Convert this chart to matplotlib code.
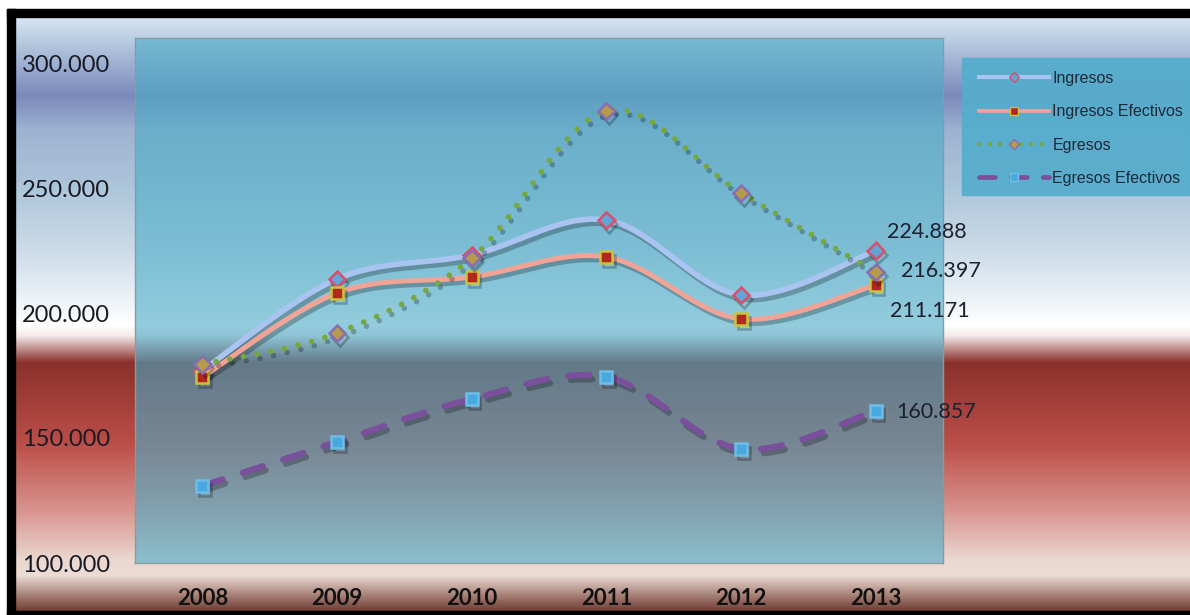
import numpy as np
import matplotlib
matplotlib.use("Agg")
import matplotlib.pyplot as plt
from matplotlib.patches import Rectangle
from matplotlib.lines import Line2D
from matplotlib.ticker import FuncFormatter
import matplotlib.patheffects as pe

years = ["2008", "2009", "2010", "2011", "2012", "2013"]
ingresos = [177000, 213600, 223200, 237200, 207200, 224888]
ingresos_efectivos = [174400, 208000, 214400, 222400, 197600, 211171]
egresos = [179500, 192000, 222000, 280800, 248000, 216397]
egresos_efectivos = [130800, 148400, 165600, 174400, 145600, 160857]


def smooth(vals, n=40):
    # excel-like smoothed line (bezier through the points)
    p = np.array(vals, dtype=float)
    x = np.arange(len(p), dtype=float)
    pp = np.concatenate([[p[0]], p, [p[-1]]])
    xx = np.concatenate([[x[0]], x, [x[-1]]])
    xs, ys = [], []
    t = np.linspace(0, 1, n, endpoint=False)
    for i in range(len(p) - 1):
        for arr, out in ((xx, xs), (pp, ys)):
            p0, p3 = arr[i + 1], arr[i + 2]
            c1 = p0 + (arr[i + 2] - arr[i]) / 6
            c2 = p3 - (arr[i + 3] - arr[i + 1]) / 6
            out.extend((1 - t) ** 3 * p0 + 3 * (1 - t) ** 2 * t * c1 + 3 * (1 - t) * t ** 2 * c2 + t ** 3 * p3)
    xs.append(x[-1])
    ys.append(p[-1])
    return np.array(xs), np.array(ys), list(range(0, n * (len(p) - 1) + 1, n))


fig = plt.figure(figsize=(11.9, 6.15), dpi=100)
W, H = 1190, 615

# background gradient
stops = [(0, (0.85, 0.90, 0.95)), (17, (0.85, 0.90, 0.95)), (40, (0.72, 0.80, 0.88)),
         (95, (0.48, 0.54, 0.74)), (130, (0.62, 0.70, 0.82)), (190, (0.68, 0.78, 0.86)),
         (250, (0.80, 0.86, 0.91)), (325, (1, 1, 1)), (335, (0.96, 0.92, 0.92)),
         (362, (0.54, 0.19, 0.17)), (445, (0.74, 0.31, 0.29)), (510, (0.85, 0.58, 0.56)),
         (560, (0.92, 0.85, 0.82)), (575, (0.92, 0.86, 0.83)), (595, (0.65, 0.50, 0.46)),
         (615, (0.36, 0.16, 0.12))]
yy = np.arange(H)
grad = np.zeros((H, 1, 3))
for c in range(3):
    grad[:, 0, c] = np.interp(yy, [s[0] for s in stops], [s[1][c] for s in stops])

bg = fig.add_axes([0, 0, 1, 1], zorder=-5)
bg.imshow(grad, aspect="auto", extent=[0, W, H, 0])
bg.set_xlim(0, W)
bg.set_ylim(H, 0)
bg.axis("off")
bg.add_patch(Rectangle((0, 0), W, 9, color="white"))
bg.add_patch(Rectangle((0, 0), 7, H, color="white"))
bg.add_patch(Rectangle((7, 9), W, 8, color="black"))
bg.add_patch(Rectangle((7, 9), 8, H, color="black"))
bg.add_patch(Rectangle((7, 611), W, 4, color="black"))
# legend box
bg.add_patch(Rectangle((962, 58), 228, 137, color=(0.33, 0.68, 0.80), alpha=0.92))

ax = fig.add_axes([135 / W, 1 - 563 / H, 808 / W, 525 / H])
ax.set_facecolor((0.29, 0.67, 0.78, 0.6))
for s in ax.spines.values():
    s.set_color("#8a9aa0")
    s.set_linewidth(1)

shadow = [pe.SimpleLineShadow(offset=(2, -3), alpha=0.25), pe.Normal()]

series = [
    (ingresos, "Ingresos", dict(color="#a9c4f0", lw=4, ls="-"),
     dict(marker="D", mfc="#62a4d8", mec="#d9506a")),
    (ingresos_efectivos, "Ingresos Efectivos", dict(color="#f2a396", lw=3.5, ls="-"),
     dict(marker="s", mfc="#b0281e", mec="#c8c43c")),
    (egresos, "Egresos", dict(color="#76a83c", lw=4, ls=(0, (0.01, 2.5)), dash_capstyle="round"),
     dict(marker="D", mfc="#b49c4c", mec="#8a6cb4")),
    (egresos_efectivos, "Egresos Efectivos", dict(color="#7a4f9c", lw=4.5, ls=(0, (3.4, 3.4)),
                                                  dash_capstyle="round"),
     dict(marker="s", mfc="#48a8e0", mec="#70bce8")),
]
handles = []
for vals, name, lst, mst in series:
    xs, ys, idx = smooth(vals)
    ax.plot(xs, ys, markevery=idx, ms=8.5, mew=1.8, path_effects=shadow, **lst, **mst)
    hl = dict(lst)
    hl["lw"] = lst["lw"] * 0.75
    handles.append(Line2D([], [], ms=5.5, mew=1, label=name, **hl, **mst))

ax.set_xlim(-0.5, 5.5)
ax.set_ylim(100000, 310000)
ax.set_xticks(range(len(years)))
ax.set_xticklabels(years, fontfamily="Lato", fontweight="bold", fontsize=16, color="#111111")
ax.set_yticks([100000, 150000, 200000, 250000, 300000])
ax.yaxis.set_major_formatter(FuncFormatter(lambda v, p: f"{v:,.0f}".replace(",", ".")))
ax.tick_params(axis="y", length=0, pad=18, labelsize=17, labelcolor="#1a1a24")
ax.tick_params(axis="x", length=0, pad=18)
for t in ax.get_yticklabels():
    t.set_fontfamily("Lato")

labels = [(ingresos, (51, 19)), (egresos, (65, 1)), (ingresos_efectivos, (54, -26)),
          (egresos_efectivos, (61, -1))]
for vals, off in labels:
    ax.annotate(f"{vals[-1]:,.0f}".replace(",", "."), xy=(5, vals[-1]), xytext=off,
                textcoords="offset pixels", ha="center", va="center",
                fontfamily="Lato", fontsize=15.5, color="#1c2030", annotation_clip=False)

leg = ax.legend(handles=handles, loc="upper left", bbox_to_anchor=(966 / W, 1 - 58 / H),
                bbox_transform=fig.transFigure,
                prop=dict(family=["Liberation Sans", "DejaVu Sans"], size=11.5),
                handlelength=4.4, numpoints=1, frameon=False,
                labelspacing=1.15, borderpad=0.3, handletextpad=0.2, labelcolor="#1f2838")

fig.savefig("out.png", dpi=100)
